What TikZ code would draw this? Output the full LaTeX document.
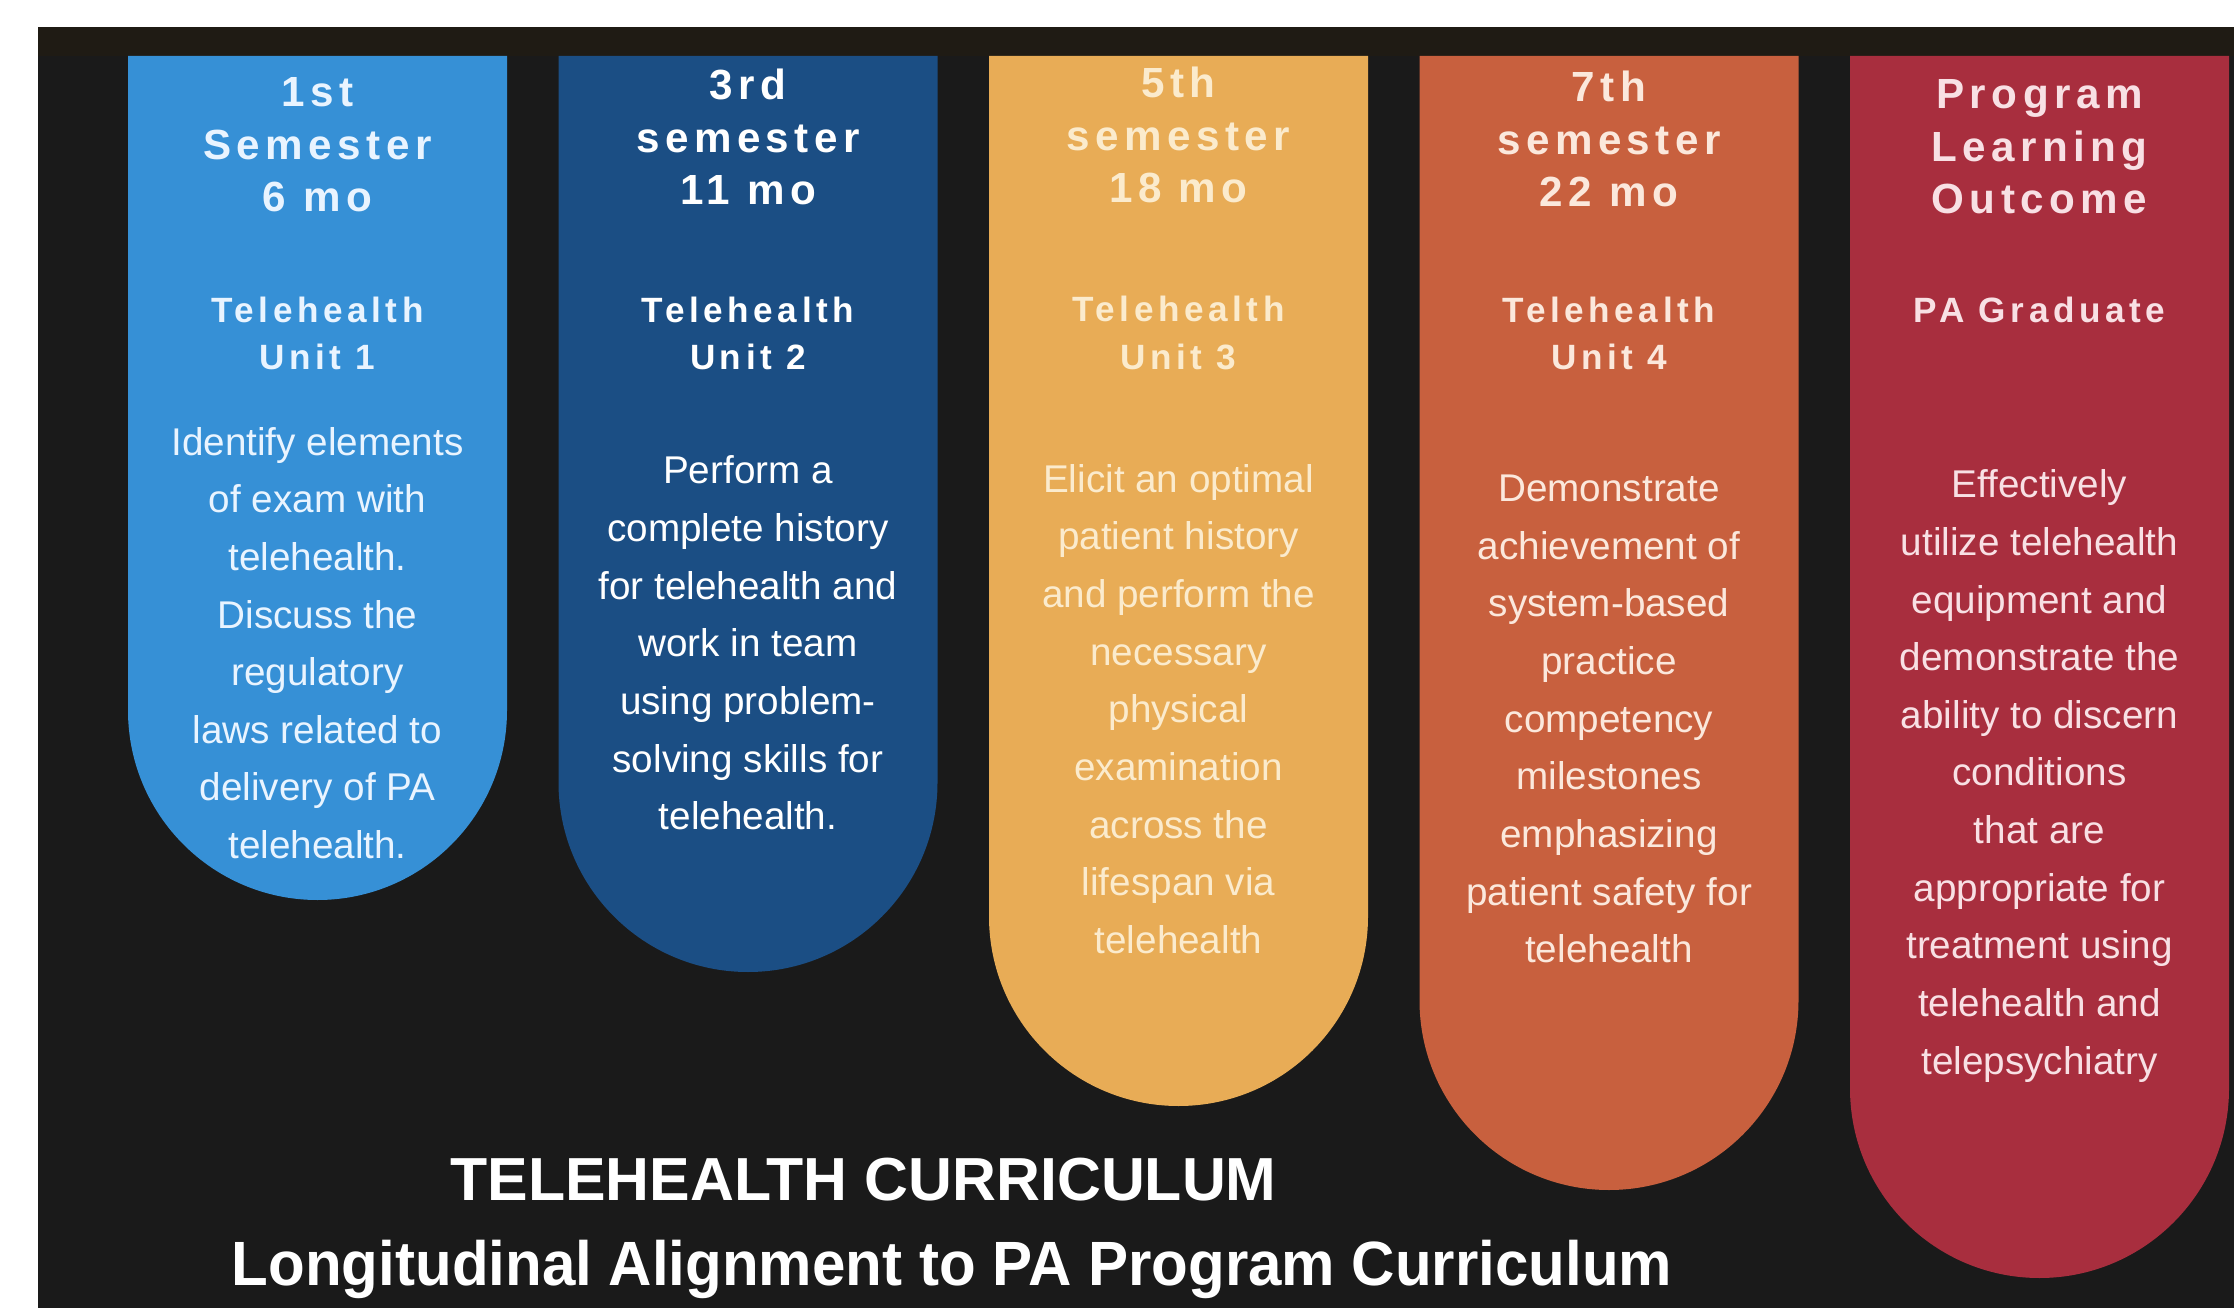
\documentclass[tikz,border=0pt]{standalone}
\usepackage{fontspec}
\setmainfont{Liberation Sans}
\newfontfamily\trackedfont{Liberation Sans}[LetterSpace=13]
\newfontfamily\titlefont{Liberation Sans}
\newfontfamily\subtitlefont{Liberation Sans}[FakeStretch=0.96]

\definecolor{curricbg}{HTML}{1A1A1A}
\definecolor{currictop}{HTML}{1F1B14}
\definecolor{unitone}{HTML}{3690D6}
\definecolor{unittwo}{HTML}{1B4E84}
\definecolor{unitthree}{HTML}{E8AC56}
\definecolor{unitfour}{HTML}{C8603E}
\definecolor{outcomered}{HTML}{A82E3E}
\definecolor{inkone}{HTML}{E9F4FF}
\definecolor{inkthree}{HTML}{FBEBCD}
\definecolor{inkfour}{HTML}{FBE8DC}
\definecolor{inkfive}{HTML}{F8E0E4}

\begin{document}
\begin{tikzpicture}
        \tikzset{
            semesterhead/.style={
                text=white,
                font=\trackedfont\bfseries\fontsize{12}{14.9}\selectfont,
                align=center,
                inner sep=0pt
            },
            semesterunit/.style={
                semesterhead,
                font=\trackedfont\bfseries\fontsize{10}{13.4}\selectfont
            },
            semestergoal/.style={
                text=white,
                font=\fontsize{11}{16.4}\selectfont,
                align=center,
                inner sep=0pt
            },
            currictitle/.style={
                text=white,
                font=\titlefont\bfseries\fontsize{17.3}{21}\selectfont,
                anchor=base,
                inner sep=0pt
            }
        }

        \useasboundingbox (0,0) rectangle (22.34,-13.08);
        \fill[white] (0,0) rectangle (22.34,-13.08);
        \fill[curricbg] (0.38,-0.27) rectangle (22.34,-13.08);
        \fill[currictop] (0.38,-0.27) rectangle (22.34,-0.56);

        % the five pillars, rounded at the bottom
        \fill[unitone] (1.28,-0.56) -- (1.28,-7.105)
            arc[start angle=180,end angle=360,radius=1.895] -- (5.07,-0.56) -- cycle;
        \fill[unittwo] (5.585,-0.56) -- (5.585,-7.825)
            arc[start angle=180,end angle=360,radius=1.895] -- (9.375,-0.56) -- cycle;
        \fill[unitthree] (9.89,-0.56) -- (9.89,-9.165)
            arc[start angle=180,end angle=360,radius=1.895] -- (13.68,-0.56) -- cycle;
        \fill[unitfour] (14.195,-0.56) -- (14.195,-10.005)
            arc[start angle=180,end angle=360,radius=1.895] -- (17.985,-0.56) -- cycle;
        \fill[outcomered] (18.50,-0.56) -- (18.50,-10.885)
            arc[start angle=180,end angle=360,radius=1.895] -- (22.29,-0.56) -- cycle;

        \node[semesterhead,text=inkone] (firsthead) at (3.175,-1.45)
            {1st\\Semester\\6 mo};
        \node[semesterunit,text=inkone] (firstunit) at (3.175,-3.33)
            {Telehealth\\Unit 1};
        \node[semestergoal,text=inkone] (firstgoal) at (3.175,-6.43)
            {Identify elements\\of exam with\\telehealth.\\Discuss the\\regulatory\\laws related to\\delivery of PA\\telehealth.};

        \node[semesterhead] (thirdhead) at (7.48,-1.37)
            {3rd\\semester\\11 mo};
        \node[semesterunit] (thirdunit) at (7.48,-3.33)
            {Telehealth\\Unit 2};
        \node[semestergoal] (thirdgoal) at (7.48,-6.43)
            {Perform a\\complete history\\for telehealth and\\work in team\\using problem-\\solving skills for\\telehealth.};

        \node[semesterhead,text=inkthree] (fifthhead) at (11.785,-1.35)
            {5th\\semester\\18 mo};
        \node[semesterunit,text=inkthree] (fifthunit) at (11.785,-3.33)
            {Telehealth\\Unit 3};
        \node[semestergoal,text=inkthree] (fifthgoal) at (11.785,-7.09)
            {Elicit an optimal\\patient history\\and perform the\\necessary\\physical\\examination\\across the\\lifespan via\\telehealth};

        \node[semesterhead,text=inkfour] (seventhhead) at (16.09,-1.39)
            {7th\\semester\\22 mo};
        \node[semesterunit,text=inkfour] (seventhunit) at (16.09,-3.33)
            {Telehealth\\Unit 4};
        \node[semestergoal,text=inkfour] (seventhgoal) at (16.09,-7.19)
            {Demonstrate\\achievement of\\system-based\\practice\\competency\\milestones\\emphasizing\\patient safety for\\telehealth};

        \node[semesterhead,text=inkfive] (outcomehead) at (20.395,-1.47)
            {Program\\Learning\\Outcome};
        \node[semesterunit,text=inkfive] (outcomeunit) at (20.395,-3.10)
            {PA Graduate};
        \node[semestergoal,text=inkfive] (outcomegoal) at (20.395,-7.76)
            {Effectively\\utilize telehealth\\equipment and\\demonstrate the\\ability to discern\\conditions\\that are\\appropriate for\\treatment using\\telehealth and\\telepsychiatry};

        \node[currictitle] (title) at (8.635,-12.00)
            {TELEHEALTH CURRICULUM};
        \node[currictitle,font=\subtitlefont\bfseries\fontsize{17.8}{22}\selectfont]
            (subtitle) at (9.52,-12.85)
            {Longitudinal Alignment to PA Program Curriculum};
    \end{tikzpicture}
\end{document}
